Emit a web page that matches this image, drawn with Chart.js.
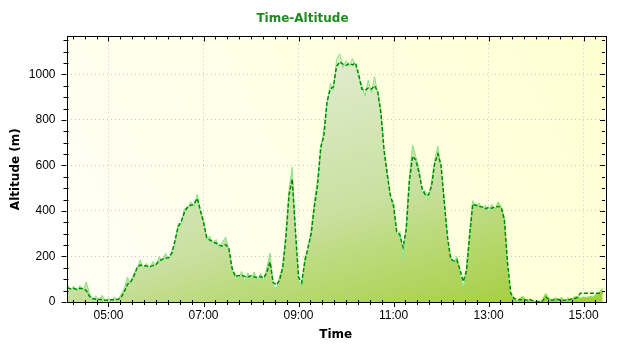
<!DOCTYPE html>
<html>
<head>
<meta charset="utf-8">
<script src="https://cdn.jsdelivr.net/npm/chart.js@4/dist/chart.umd.min.js"></script>
<style>
    html, body { margin: 0; padding: 0; background: #fff; }
    canvas { display: block; }
</style>
</head>
<body>
<canvas id="altChart" width="640" height="350"></canvas>
<script>
// minutes since midnight, one sample every 4 minutes from 04:08
const startMinute = 248;
const stepMinutes = 4;

// smoothed altitude (dark line)
const altSmooth = [
    62, 58, 60, 55, 60, 58, 50, 25, 15, 12, 12, 10, 8, 8, 10, 10, 12, 20, 45, 78,
    88, 112, 150, 162, 160, 158, 155, 160, 165, 180, 188, 192, 195, 214, 270, 330, 355, 395, 418, 425,
    430, 455, 405, 350, 285, 272, 265, 258, 250, 245, 252, 235, 150, 112, 115, 118, 112, 110, 115, 110,
    108, 112, 105, 130, 175, 85, 75, 95, 150, 280, 470, 540, 320, 110, 85, 180, 240, 300, 420, 510,
    680, 730, 880, 935, 945, 1035, 1055, 1045, 1040, 1048, 1042, 1050, 1000, 935, 930, 940, 935, 950, 925, 830,
    670, 560, 470, 420, 310, 295, 240, 320, 530, 640, 625, 570, 500, 470, 470, 510, 610, 650, 600, 440,
    290, 190, 180, 185, 140, 90, 135, 290, 430, 425, 420, 418, 410, 415, 412, 418, 420, 415, 360, 170,
    40, 15, 12, 10, 12, 8, 10, 6, 2, 2, 4, 22, 12, 8, 10, 12, 6, 8, 10, 12,
    14, 20, 38, 38, 38, 38, 38, 38, 38, 38
];

// raw GPS altitude (light, noisy line)
const altRaw = [
    75, 52, 68, 48, 72, 55, 88, 40, 8, 28, 5, 30, 2, 18, 4, 22, 6, 35, 60, 110,
    80, 125, 145, 185, 150, 170, 148, 178, 160, 200, 175, 215, 188, 225, 255, 345, 340, 410, 412, 440,
    418, 472, 395, 362, 275, 290, 255, 275, 238, 262, 285, 230, 135, 125, 98, 135, 90, 128, 100, 132,
    95, 125, 90, 150, 215, 70, 60, 110, 160, 300, 495, 592, 300, 95, 70, 195, 230, 320, 440, 540,
    660, 760, 870, 960, 930, 1065, 1090, 1030, 1060, 1035, 1070, 1040, 985, 950, 905, 975, 920, 990, 915, 845,
    650, 575, 455, 440, 290, 310, 185, 345, 555, 690, 640, 590, 480, 490, 445, 530, 625, 685, 585, 455,
    275, 200, 170, 200, 125, 62, 150, 305, 445, 415, 435, 405, 425, 395, 430, 405, 440, 420, 370, 150,
    30, 22, 5, 18, 25, 2, 15, 3, 0, 0, 10, 38, 18, 5, 20, 8, 22, 4, 18, 10,
    22, 25, 18, 22, 20, 25, 22, 35, 45, 62
];

const hourTicks = [5, 7, 9, 11, 13, 15];
const altTicks = [0, 200, 400, 600, 800, 1000];

const xMin = 247;
const xMax = 927;
const yMax = 1167;

const toPoints = arr => arr.map((v, i) => ({ x: startMinute + i * stepMinutes, y: v }));
const fmtTime = m => String(Math.floor(m / 60)).padStart(2, '0') + ':' + String(m % 60).padStart(2, '0');

const plotBackground = {
    id: 'plotBackground',
    beforeDraw(chart) {
        const { ctx, chartArea: a } = chart;
        ctx.save();
        ctx.fillStyle = '#fff';
        ctx.fillRect(0, 0, chart.width, chart.height);
        const g = ctx.createLinearGradient(a.left, a.bottom, a.right, a.top);
        g.addColorStop(0, '#fffff6');
        g.addColorStop(1, '#ffffd2');
        ctx.fillStyle = g;
        ctx.fillRect(a.left, a.top, a.right - a.left, a.bottom - a.top);
        ctx.restore();
    }
};

// frame with minor/major tick marks on all four sides
const frameTicks = {
    id: 'frameTicks',
    afterDraw(chart) {
        const { ctx, chartArea: a, scales: { x, y } } = chart;
        ctx.save();
        ctx.strokeStyle = '#000';
        ctx.lineWidth = 1;
        ctx.beginPath();
        for (let m = 255; m <= xMax; m += 15) {
            const px = Math.round(x.getPixelForValue(m)) + 0.5;
            const major = m % 120 === 60;
            ctx.moveTo(px, a.bottom + (major ? 5 : 3));
            ctx.lineTo(px, a.bottom - (major ? 0 : 2));
            ctx.moveTo(px, a.top);
            ctx.lineTo(px, a.top + (major ? 5 : 3));
        }
        for (let v = 0; v <= yMax; v += 50) {
            const py = Math.round(y.getPixelForValue(v)) + 0.5;
            const major = v % 200 === 0;
            ctx.moveTo(a.left - (major ? 5 : 3), py);
            ctx.lineTo(a.left + (major ? 0 : 2), py);
            ctx.moveTo(a.right, py);
            ctx.lineTo(a.right - (major ? 5 : 3), py);
        }
        ctx.stroke();
        ctx.strokeRect(Math.round(a.left) + 0.5, Math.round(a.top) + 0.5,
            Math.round(a.right - a.left), Math.round(a.bottom - a.top));
        ctx.restore();
    }
};

new Chart(document.getElementById('altChart'), {
    type: 'line',
    data: {
        datasets: [
            {
                label: 'Raw',
                order: 1,
                data: toPoints(altRaw),
                borderColor: '#86e486',
                borderWidth: 1,
                pointRadius: 0,
                tension: 0,
                fill: 'origin',
                backgroundColor: ctx => {
                    const a = ctx.chart.chartArea;
                    if (!a) return 'rgba(180,215,110,0.8)';
                    const w = a.right - a.left, h = a.bottom - a.top;
                    const g = ctx.chart.ctx.createLinearGradient(a.left, a.top, a.left + 0.22 * w, a.top + 1.48 * h);
                    g.addColorStop(0, '#f0f4e4');
                    g.addColorStop(0.25, '#e0ebcc');
                    g.addColorStop(0.6, '#c8e0a0');
                    g.addColorStop(0.7, '#bddb80');
                    g.addColorStop(0.92, '#a8d048');
                    g.addColorStop(1, '#a2cd3c');
                    return g;
                }
            },
            {
                label: 'Smooth',
                order: 0,
                data: toPoints(altSmooth),
                borderColor: '#008a00',
                borderWidth: 1.5,
                borderDash: [4, 2],
                pointRadius: 0,
                tension: 0,
                fill: false
            }
        ]
    },
    options: {
        responsive: false,
        animation: false,
        layout: { padding: { left: 0, right: 35, top: 0, bottom: 0 } },
        plugins: {
            legend: { display: false },
            tooltip: { enabled: false },
            title: {
                display: true,
                text: 'Time-Altitude',
                color: '#1e8c1e',
                font: { family: 'DejaVu Sans', size: 12, weight: 'bold' },
                padding: { top: 12, bottom: 10 }
            }
        },
        scales: {
            x: {
                type: 'linear',
                min: xMin,
                max: xMax,
                afterBuildTicks: s => { s.ticks = hourTicks.map(h => ({ value: h * 60 })); },
                afterFit: s => { s.height = 48; },
                ticks: {
                    autoSkip: false,
                    maxRotation: 0,
                    padding: 6,
                    color: '#000',
                    font: { family: 'Liberation Sans', size: 12 },
                    callback: v => fmtTime(v)
                },
                grid: { color: '#c8c8c8', drawTicks: false },
                border: { display: false, dash: [1, 3] },
                title: {
                    display: true,
                    text: 'Time',
                    color: '#000',
                    font: { family: 'DejaVu Sans', size: 12, weight: 'bold' },
                    padding: { top: 0, bottom: 8 }
                }
            },
            y: {
                min: 0,
                max: yMax,
                afterBuildTicks: s => { s.ticks = altTicks.map(v => ({ value: v })); },
                afterFit: s => { s.width = 66.5; },
                ticks: {
                    autoSkip: false,
                    padding: 11,
                    color: '#000',
                    font: { family: 'Liberation Sans', size: 12 },
                    callback: v => String(v)
                },
                grid: { color: '#c8c8c8', drawTicks: false },
                border: { display: false, dash: [1, 3] },
                title: {
                    display: true,
                    text: 'Altitude (m)',
                    color: '#000',
                    font: { family: 'DejaVu Sans', size: 12, weight: 'bold' },
                    padding: { top: 9, bottom: 4 }
                }
            }
        }
    },
    plugins: [plotBackground, frameTicks]
});
</script>
</body>
</html>
